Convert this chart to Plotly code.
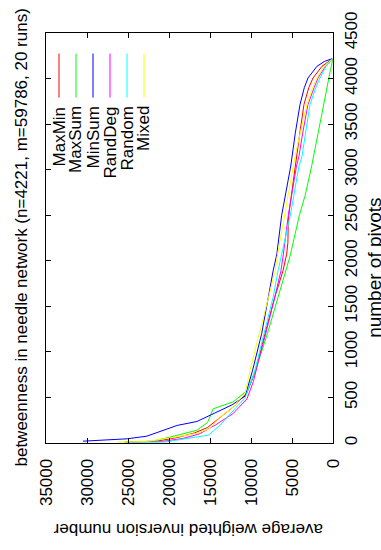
import plotly.graph_objects as go

# ---- data (x: number of pivots, y: average weighted inversion number) ----
names = ["MaxMin", "MaxSum", "MinSum", "RandDeg", "Random", "Mixed"]
colors = ["#ff0000", "#00ff00", "#0000ff", "#ff00ff", "#00ffff", "#ffff00"]

maxmin_piv = [10, 20, 60, 110, 170, 280, 400, 550, 800, 1200, 1600, 1890, 2073, 2200, 2450, 2600, 3040, 3150, 3400, 3716, 3900, 4006, 4135, 4221]
maxmin_inv = [25300, 21500, 19000, 16900, 15300, 13800, 12100, 10500, 9400, 8300, 7100, 6100, 5650, 5500, 5450, 5250, 4630, 4420, 4050, 3540, 2950, 2440, 1340, 0]

maxsum_piv = [10, 20, 64, 140, 225, 300, 376, 451, 580, 805, 1200, 1600, 1890, 2050, 2500, 2716, 3040, 3400, 3683, 3900, 4100, 4221]
maxsum_inv = [25500, 22000, 19900, 16600, 15300, 15000, 14600, 12200, 10400, 9400, 8000, 6700, 5750, 5240, 4100, 3400, 2600, 1850, 1220, 730, 300, 0]

minsum_piv = [20, 46, 75, 120, 161, 193, 236, 290, 344, 419, 516, 800, 1200, 1600, 1890, 2073, 2500, 3040, 3147, 3400, 3716, 3900, 4006, 4135, 4190, 4221]
minsum_inv = [30500, 25100, 22700, 21300, 20200, 19000, 16600, 15300, 13900, 12300, 10700, 9800, 8700, 7900, 7300, 6850, 6260, 5150, 5000, 4600, 4020, 3500, 3050, 1950, 1000, 0]

randdeg_piv = [10, 15, 50, 100, 200, 322, 483, 677, 900, 1200, 1600, 1890, 2073, 2300, 2500, 3040, 3147, 3400, 3716, 3900, 4006, 4135, 4221]
randdeg_inv = [25000, 21000, 18300, 16300, 14300, 12200, 10500, 9700, 9100, 8200, 7100, 6350, 6050, 5750, 5450, 4450, 4150, 3700, 3050, 2300, 1830, 900, 0]

random_piv = [10, 11, 64, 86, 193, 354, 500, 805, 1200, 1600, 1890, 2073, 2500, 3040, 3147, 3400, 3716, 3900, 4006, 4135, 4221]
random_inv = [25000, 20500, 16800, 15200, 13800, 12200, 10700, 9500, 8400, 7300, 6700, 6250, 5200, 4150, 3780, 3350, 2800, 2100, 1585, 850, 0]

mixed_piv = [10, 15, 60, 107, 161, 280, 400, 550, 805, 1200, 1600, 1890, 2073, 2500, 3040, 3147, 3400, 3716, 3900, 4006, 4135, 4221]
mixed_inv = [26300, 23000, 19500, 16600, 15000, 13800, 12100, 10700, 10100, 9000, 7800, 7050, 6750, 5900, 4850, 4630, 4000, 3170, 2500, 1950, 1100, 0]

series_piv = [maxmin_piv, maxsum_piv, minsum_piv, randdeg_piv, random_piv, mixed_piv]
series_inv = [maxmin_inv, maxsum_inv, minsum_inv, randdeg_inv, random_inv, mixed_inv]

inv_ticks = [35000, 30000, 25000, 20000, 15000, 10000, 5000, 0]
piv_ticks = [0, 500, 1000, 1500, 2000, 2500, 3000, 3500, 4000, 4500]

title_text = "betweenness in needle network (n=4221, m=59786, 20 runs)"
xlabel_text = "number of pivots"
ylabel_text = "average weighted inversion number"

# ---- layout geometry (pixels) ----
W, H = 381, 550
L, R, T, B = 46, 333, 24, 443
FONT = "Liberation Sans, Arial, sans-serif"
FS = 17


def px(xp):
    return (xp - L) / (R - L)


def py(yp):
    return (B - yp) / (B - T)


fig = go.Figure()
for n, c, pv, iv in zip(names, colors, series_piv, series_inv):
    fig.add_trace(go.Scatter(x=iv, y=pv, mode="lines", name=n,
                             line=dict(color=c, width=1), showlegend=False))

axis_common = dict(showgrid=False, zeroline=False, showline=True, linecolor="black",
                   linewidth=1, mirror="ticks", ticks="inside", ticklen=5,
                   tickcolor="black", tickwidth=1,
                   tickfont=dict(family=FONT, size=FS, color="black"))

fig.update_layout(
    width=W, height=H,
    margin=dict(l=L, r=W - R, t=T, b=H - B, pad=0),
    paper_bgcolor="white", plot_bgcolor="white",
    xaxis=dict(range=[35000, 0], tickvals=inv_ticks, ticktext=[str(v) for v in inv_ticks],
               tickangle=-90, ticklabelstandoff=8, **axis_common),
    yaxis=dict(range=[0, 4500], tickvals=piv_ticks, ticktext=[str(v) for v in piv_ticks],
               side="right", tickangle=-90, ticklabelstandoff=3, **axis_common),
)

ann = [
    dict(text=title_text, x=px(22), y=py(233), textangle=-90, size=FS),
    dict(text=ylabel_text, x=px(188), y=py(532), textangle=180, size=FS),
    dict(text=xlabel_text, x=px(375), y=py(264), textangle=-90, size=19),
]
for a in ann:
    size = a.pop("size")
    fig.add_annotation(xref="paper", yref="paper", showarrow=False,
                       xanchor="center", yanchor="middle",
                       font=dict(family=FONT, size=size, color="black"), **a)

# legend (rotated, as in the reference)
for i, (n, c) in enumerate(zip(names, colors)):
    xp = 59 + 17 * i
    fig.add_shape(type="line", xref="paper", yref="paper",
                  x0=px(xp), x1=px(xp), y0=py(45), y1=py(90),
                  line=dict(color=c, width=1))
    fig.add_annotation(xref="paper", yref="paper", showarrow=False,
                       text=n, x=px(xp), y=py(97), textangle=-90,
                       xanchor="center", yanchor="top",
                       font=dict(family=FONT, size=FS, color="black"))

fig.write_html("out.html", config={"displayModeBar": False},
               post_script="document.body.style.margin='0';document.body.style.overflow='hidden';")
